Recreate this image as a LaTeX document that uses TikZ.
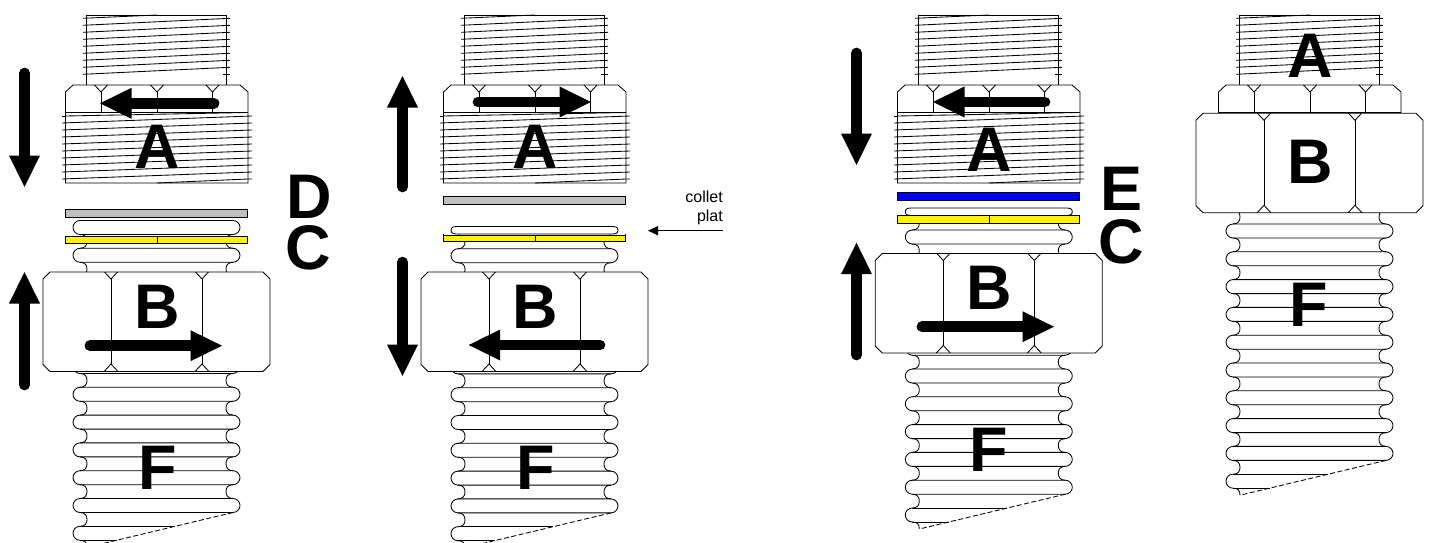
\documentclass[tikz,border=0pt]{standalone}
\usepackage{fontspec}
\setmainfont{Liberation Sans}
\definecolor{washgray}{HTML}{C0C0C0}
\definecolor{washblue}{HTML}{0000F0}
\tikzset{
  ln/.style={draw=black,line width=0.85pt,line join=miter},
  big/.style={font=\fontsize{63}{63}\bfseries\selectfont,anchor=base,inner sep=0pt,text=black},
  small/.style={font=\fontsize{16}{20}\selectfont,anchor=base east,inner sep=0pt,text=black},
  thin/.style={draw=black,line width=0.85pt}
}
\newcommand{\BigArrow}[5]{% x1 y1 (tail) x2 y2 (tip), #5 = h or v
  \ifx#5h\relax
    \pgfmathsetmacro\bx{#3+(#1>#3?31.5:-31.5)}
    \draw[line width=10.7pt,line cap=round,black] (#1,#2) -- (\bx,#2);
    \fill[black] (#3,#4) -- (\bx,#4-15.5) -- (\bx,#4+15.5) -- cycle;
  \else
    \pgfmathsetmacro\by{#4+(#2>#4?31.5:-31.5)}
    \draw[line width=10.7pt,line cap=round,black] (#1,#2) -- (#1,\by);
    \fill[black] (#3,#4) -- (#3-15.5,\by) -- (#3+15.5,\by) -- cycle;
  \fi}
\newcommand{\HexMarksTop}[3]{% x-centre list, y top, y bottom
  \foreach \c in {#1}{
    \draw[ln] (\c-6.5,#2) -- (\c,#2+7) -- (\c+6.5,#2);
    \draw[ln] (\c,#2+7) -- (\c,#3);
  }}
\newcommand{\Thread}{%
  \draw[ln] (86.5,85) -- (86.5,15) -- (226.5,15) -- (226.5,85);
  \draw[ln] (83,18.3) -- (157,15);
  \foreach \k in {1,...,8}{
    \draw[ln] (83,18.3+7*\k) -- (230,18.3+7*\k-7);
  }
  \draw[ln] (223,74.3) -- (230,74.3);
}
\newcommand{\NutAShort}{%
  \draw[ln,fill=white] (65.5,92) -- (73,85) -- (240,85) -- (248,92) -- (248,112.5) -- (65.5,112.5) -- cycle;
  \HexMarksTop{101,157,212.5}{85}{112.5}
}
\newcommand{\NutALong}{%
  \draw[ln,fill=white] (65.5,92) -- (73,85) -- (240,85) -- (248,92) -- (248,183) -- (65.5,183) -- cycle;
  \draw[ln] (65.5,112.5) -- (248,112.5);
  \HexMarksTop{101,157,212.5}{85}{112.5}
  \draw[ln] (65.5,116) -- (248,112.5);
  \foreach \k in {1,...,9}{
    \draw[ln] (62,116+7*\k) -- (252,116+7*\k-7);
  }
  \draw[ln] (62,116) -- (65.5,116);
  \draw[ln] (157,183) -- (248,179) -- (252,179);
}
\newcommand{\NutB}{%
  \draw[ln,fill=white] (43,279) -- (50,272) -- (263,272) -- (270,279) -- (270,364.5) -- (263,371.5) -- (50,371.5) -- (43,364.5) -- cycle;
  \HexMarksTop{111,202}{272}{364.5}
  \foreach \c in {111,202}{
    \draw[ln] (\c-7,371.5) -- (\c,364) -- (\c+7,371.5);
  }
}
\newcommand{\Oval}[2]{% top y, height
  \pgfmathsetmacro\rr{#2/2}
  \draw[ln,fill=white] (80,#1) -- (233,#1) .. controls (237,#1) and (240,#1+\rr-3.5) .. (240,#1+\rr)
     .. controls (240,#1+\rr+3.5) and (237,#1+#2) .. (233,#1+#2) -- (80,#1+#2)
     .. controls (76,#1+#2) and (73,#1+\rr+3.5) .. (73,#1+\rr)
     .. controls (73,#1+\rr-3.5) and (76,#1) .. (80,#1) -- cycle;
}
\newcommand{\Tube}[2]{% first oval top, number of full ovals
  \pgfmathtruncatemacro\lastk{#2-1}
  \foreach \k in {0,...,\lastk}{
    \pgfmathsetmacro\t{#1+27.8*\k}
    \Oval{\t}{14}
    \draw[ln] (80,\t-13.8) .. controls (85,\t-13.8) and (87,\t-11) .. (87,\t-7) .. controls (87,\t-3) and (85,\t) .. (80,\t);
    \draw[ln] (233,\t-13.8) .. controls (228,\t-13.8) and (226,\t-11) .. (226,\t-7) .. controls (226,\t-3) and (228,\t) .. (233,\t);
  }
  \pgfmathsetmacro\b{#1+27.8*\lastk+14}
  \draw[ln] (80,\b) .. controls (85,\b) and (87,\b+3) .. (87,\b+7) .. controls (87,\b+11) and (85,\b+13.8) .. (80,\b+13.8)
     .. controls (76,\b+13.8) and (73,\b+17) .. (73,\b+20.8) .. controls (73,\b+24.6) and (76,\b+27.8) .. (80,\b+27.8)
     .. controls (85,\b+27.8) and (87,\b+30) .. (87,\b+34.8);
  \draw[ln] (80,\b+13.8) -- (175,\b+13.8);
  \draw[ln] (80,\b+27.8) -- (116.5,\b+27.8);
  \draw[draw=black,line width=0.85pt,dash pattern=on 5pt off 2.5pt] (233,\b) -- (87,\b+34.8);
}
\newcommand{\Washer}[4]{% y top, y bottom, colour, centre tick (1/0)
  \draw[ln,fill=#3] (65.5,#1) rectangle (247.5,#2);
  \ifnum#4=1 \draw[ln] (157,#1) -- (157,#2);\fi
}
\begin{document}
\begin{tikzpicture}[x=1pt,y=-1pt]
\useasboundingbox (0,0) rectangle (1430,543);
% ---------- assembly 1
\begin{scope}
  \Thread
  \NutALong
  \Washer{209.5}{217}{washgray}{0}
  \Tube{248.3}{10}
  \Oval{220.5}{14}
  \Washer{236}{243.5}{yellow}{1}
  \NutB
\end{scope}
\node[big] (a1) at (157,168.5) {A};
\node[big] (b1) at (157,328.5) {B};
\node[big] (f1) at (157.5,489) {F};
\node[big] (d1) at (309,218) {D};
\node[big] (c1) at (308,269) {C};
\BigArrow{24.5}{73}{24.5}{187}{v}
\BigArrow{24.5}{385}{24.5}{272}{v}
\BigArrow{214}{103.3}{100}{103.3}{h}
\BigArrow{90}{345.7}{222}{345.7}{h}
% ---------- assembly 2
\begin{scope}[shift={(378,0)}]
  \Thread
  \NutALong
  \Washer{196.5}{204}{washgray}{0}
  \Tube{248.7}{10}
  \Oval{226.5}{7.5}
  \draw[ln] (65.5,234) -- (65.5,236);
  \draw[ln] (247.5,234) -- (247.5,236);
  \Washer{235}{241.7}{yellow}{1}
  \NutB
\end{scope}
\node[big] (a2) at (535,168.5) {A};
\node[big] (b2) at (535,328.5) {B};
\node[big] (f2) at (535.5,489) {F};
\BigArrow{402.5}{187}{402.5}{76}{v}
\BigArrow{402.5}{262}{402.5}{376}{v}
\BigArrow{478}{102}{591}{102}{h}
\BigArrow{600}{345}{468.7}{345}{h}
\node[small] (cl1) at (723,202) {collet};
\node[small] (cl2) at (723,221) {plat};
\coordinate (tipc) at (648,230.7);
\draw[thin] (cl2.south east |- tipc) -- ([xshift=9pt]tipc);
\fill[black] (tipc) -- ++(10,-4.7) -- ++(0,9.4) -- cycle;
% ---------- assembly 3
\begin{scope}[shift={(832,0)}]
  \Thread
  \NutALong
  \Washer{192.3}{200.3}{washblue}{0}
\end{scope}
\begin{scope}[shift={(832.3,-18.5)}]
  \Tube{248.5}{10}
  \Oval{226.5}{7.5}
  \Washer{234.3}{241.5}{yellow}{1}
  \NutB
\end{scope}
\node[big] (a3) at (989,171.5) {A};
\node[big] (b3) at (989,309) {B};
\node[big] (f3) at (988.5,471) {F};
\node[big] (e3) at (1121,210.5) {E};
\node[big] (c3) at (1121.5,263) {C};
\BigArrow{856.5}{53}{856.5}{165}{v}
\BigArrow{856.5}{355}{856.5}{242.7}{v}
\BigArrow{1045}{102}{933}{102}{h}
\BigArrow{922}{326.7}{1054}{326.7}{h}
% ---------- assembly 4
\begin{scope}[shift={(1153,0)}]
  \Thread
  \NutAShort
  \Tube{224}{9}
\end{scope}
\begin{scope}[shift={(1153,-158.7)}]
  \NutB
\end{scope}
\node[big] (a4) at (1310,77.3) {A};
\node[big] (b4) at (1310,183.3) {B};
\node[big] (f4) at (1309,326) {F};
\end{tikzpicture}
\end{document}
